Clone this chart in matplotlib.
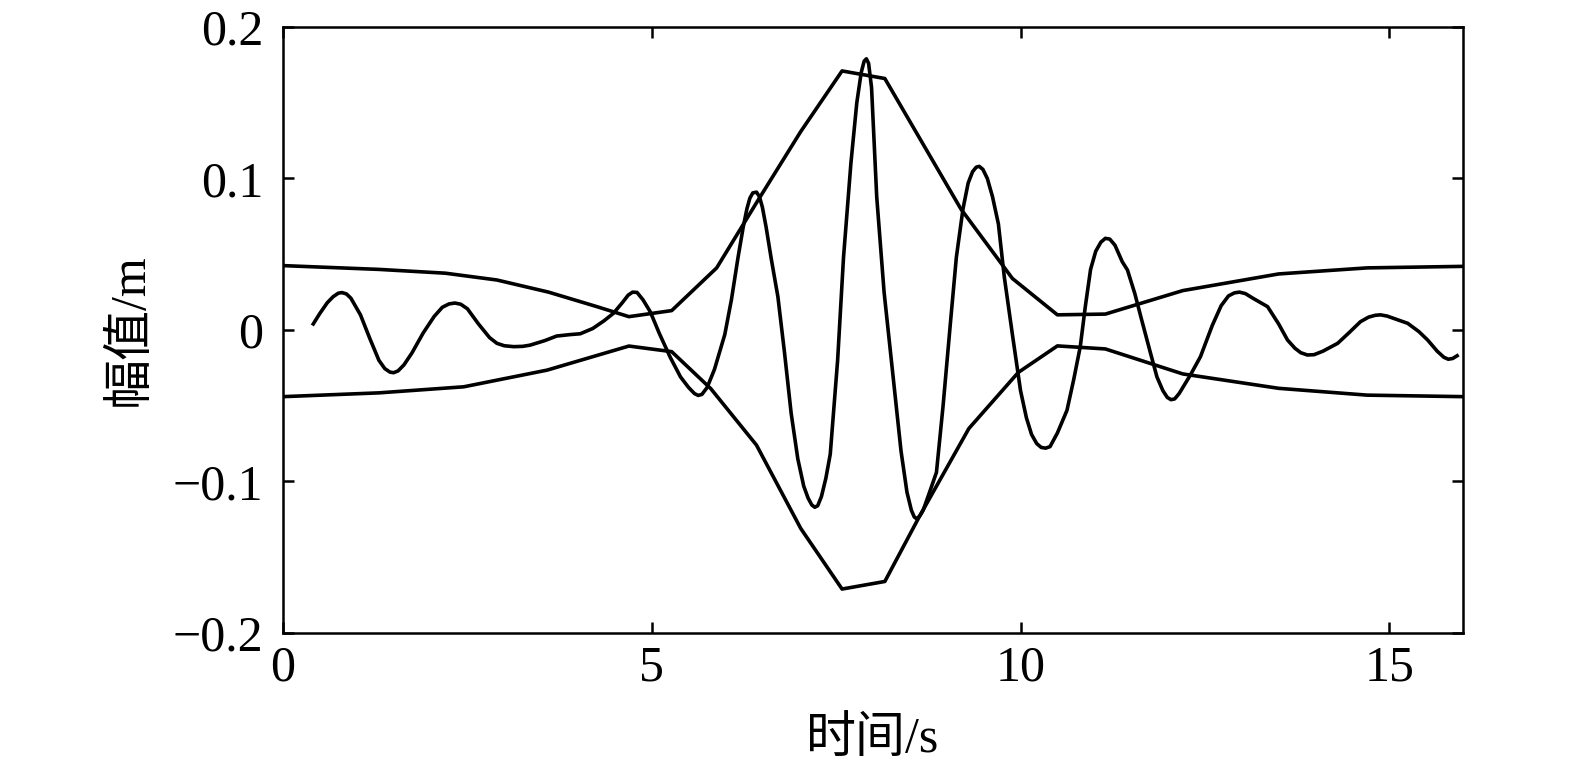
import matplotlib
matplotlib.use("Agg")
import matplotlib.pyplot as plt

plt.rcParams['font.family'] = ['Liberation Serif', 'Noto Sans CJK SC']
plt.rcParams['axes.unicode_minus'] = True

# envolvente superior e inferior (tramos rectos)
t_sup = [0, 1.3, 2.2, 2.9, 3.6, 4.25, 4.69, 5.27, 5.88, 6.42, 7.02, 7.58, 8.16,
         9.19, 9.89, 10.5, 11.15, 12.2, 13.5, 14.7, 16]
v_sup = [0.0425, 0.040, 0.0375, 0.033, 0.025, 0.0155, 0.0088, 0.0128, 0.041, 0.084,
         0.131, 0.171, 0.166, 0.080, 0.034, 0.010, 0.0105, 0.026, 0.037, 0.041, 0.042]

t_inf = [0, 1.3, 2.45, 3.58, 4.69, 5.27, 5.8, 6.42, 7.02, 7.58, 8.16, 8.63, 9.3,
         9.97, 10.5, 11.15, 12.2, 13.5, 14.7, 16]
v_inf = [-0.044, -0.0415, -0.0375, -0.0265, -0.0106, -0.0143, -0.0387, -0.076,
         -0.131, -0.171, -0.166, -0.123, -0.065, -0.028, -0.0105, -0.0125, -0.029,
         -0.0385, -0.043, -0.044]

# señal
t_sen = [0.41, 0.50, 0.60, 0.68, 0.75, 0.80, 0.86, 0.92, 1.05, 1.18, 1.30, 1.38,
         1.45, 1.50, 1.56, 1.64, 1.75, 1.90, 2.05, 2.16, 2.25, 2.33, 2.41, 2.50,
         2.65, 2.80, 2.90, 3.00, 3.13, 3.25, 3.35, 3.55, 3.71, 3.90, 4.03, 4.20,
         4.35, 4.48, 4.60, 4.68, 4.74, 4.80, 4.88, 4.98, 5.10, 5.25, 5.39, 5.50,
         5.58, 5.63, 5.68, 5.75, 5.85, 5.99, 6.08, 6.17, 6.24, 6.29, 6.33, 6.37,
         6.42, 6.46, 6.50, 6.55, 6.62, 6.71, 6.80, 6.89, 6.98, 7.06, 7.12, 7.17,
         7.21, 7.25, 7.30, 7.36, 7.42, 7.52, 7.60, 7.70, 7.78, 7.84, 7.88, 7.91,
         7.94, 7.98, 8.05, 8.15, 8.27, 8.38, 8.46, 8.52, 8.56, 8.59, 8.63, 8.68,
         8.76, 8.86, 8.95, 9.05, 9.13, 9.22, 9.29, 9.35, 9.40, 9.44, 9.49, 9.55,
         9.62, 9.70, 9.78, 9.89, 10.00, 10.08, 10.15, 10.22, 10.28, 10.34, 10.40,
         10.50, 10.63, 10.72, 10.81, 10.88, 10.95, 11.02, 11.09, 11.15, 11.21,
         11.28, 11.38, 11.45, 11.55, 11.63, 11.75, 11.85, 11.93, 11.99, 12.04,
         12.09, 12.15, 12.30, 12.44, 12.60, 12.72, 12.82, 12.90, 12.97, 13.05,
         13.15, 13.35, 13.50, 13.62, 13.72, 13.80, 13.89, 13.98, 14.10, 14.30,
         14.45, 14.61, 14.72, 14.81, 14.88, 14.97, 15.10, 15.25, 15.40, 15.52,
         15.65, 15.74, 15.80, 15.86, 15.92]
v_sen = [0.004, 0.011, 0.018, 0.022, 0.0243, 0.0247, 0.0238, 0.021, 0.010, -0.006,
         -0.020, -0.0255, -0.0278, -0.0282, -0.027, -0.023, -0.015, -0.002, 0.009,
         0.0150, 0.0172, 0.0178, 0.0170, 0.0140, 0.004, -0.005, -0.0088, -0.0104,
         -0.0110, -0.0108, -0.0100, -0.007, -0.004, -0.003, -0.0025, 0.001, 0.006,
         0.011, 0.018, 0.0230, 0.0250, 0.0248, 0.020, 0.012, -0.002, -0.018, -0.031,
         -0.038, -0.0420, -0.0432, -0.0425, -0.038, -0.026, -0.003, 0.020, 0.048,
         0.068, 0.080, 0.087, 0.0905, 0.0910, 0.0880, 0.081, 0.068, 0.047, 0.022,
         -0.015, -0.055, -0.085, -0.103, -0.111, -0.1155, -0.1170, -0.1160, -0.110,
         -0.098, -0.082, -0.020, 0.048, 0.110, 0.150, 0.170, 0.1775, 0.1790, 0.1760,
         0.160, 0.088, 0.025, -0.030, -0.080, -0.107, -0.119, -0.1235, -0.1245,
         -0.1230, -0.119, -0.108, -0.094, -0.050, 0.005, 0.048, 0.080, 0.097, 0.1045,
         0.1075, 0.1080, 0.1060, 0.100, 0.088, 0.070, 0.035, -0.003, -0.040, -0.058,
         -0.069, -0.075, -0.0775, -0.0780, -0.0770, -0.068, -0.053, -0.033, -0.011,
         0.016, 0.040, 0.052, 0.058, 0.0605, 0.0600, 0.056, 0.045, 0.0396, 0.024, 0.009,
         -0.013, -0.031, -0.040, -0.0445, -0.0460, -0.0455, -0.042, -0.030, -0.0176,
         0.003, 0.016, 0.0225, 0.0245, 0.0250, 0.0240, 0.021, 0.0154, 0.004, -0.0066,
         -0.0120, -0.0150, -0.0165, -0.0163, -0.014, -0.0088, -0.002, 0.0055, 0.0085,
         0.0097, 0.0100, 0.0092, 0.0070, 0.0044, -0.001, -0.0066, -0.0140, -0.0180,
         -0.0193, -0.0188, -0.0170]

xticks = [0, 5, 10, 15]
yticks = [-0.2, -0.1, 0, 0.1, 0.2]
ytick_labels = ['\u22120.2', '\u22120.1', '0', '0.1', '0.2']

fig = plt.figure(figsize=(15.75, 7.76), dpi=100)
ax = fig.add_axes([0.1797, 0.1843, 0.7492, 0.7809])

ax.plot(t_sup, v_sup, color='black', lw=2.6)
ax.plot(t_inf, v_inf, color='black', lw=2.6)
ax.plot(t_sen, v_sen, color='black', lw=2.6)

ax.set_xlim(0, 16)
ax.set_ylim(-0.2, 0.2)
ax.set_xticks(xticks)
ax.set_xticklabels([str(v) for v in xticks])
ax.set_yticks(yticks)
ax.set_yticklabels(ytick_labels)

ax.tick_params(direction='in', length=8, width=1.8, labelsize=36,
               top=True, right=True)
ax.tick_params(axis='x', pad=9)
ax.tick_params(axis='y', pad=14)
for s in ax.spines.values():
    s.set_linewidth(1.8)

ax.set_xlabel('时间/s', fontsize=36, labelpad=18)
ax.set_ylabel('幅值/m', fontsize=36, labelpad=14)

fig.savefig('out.png', dpi=100)
